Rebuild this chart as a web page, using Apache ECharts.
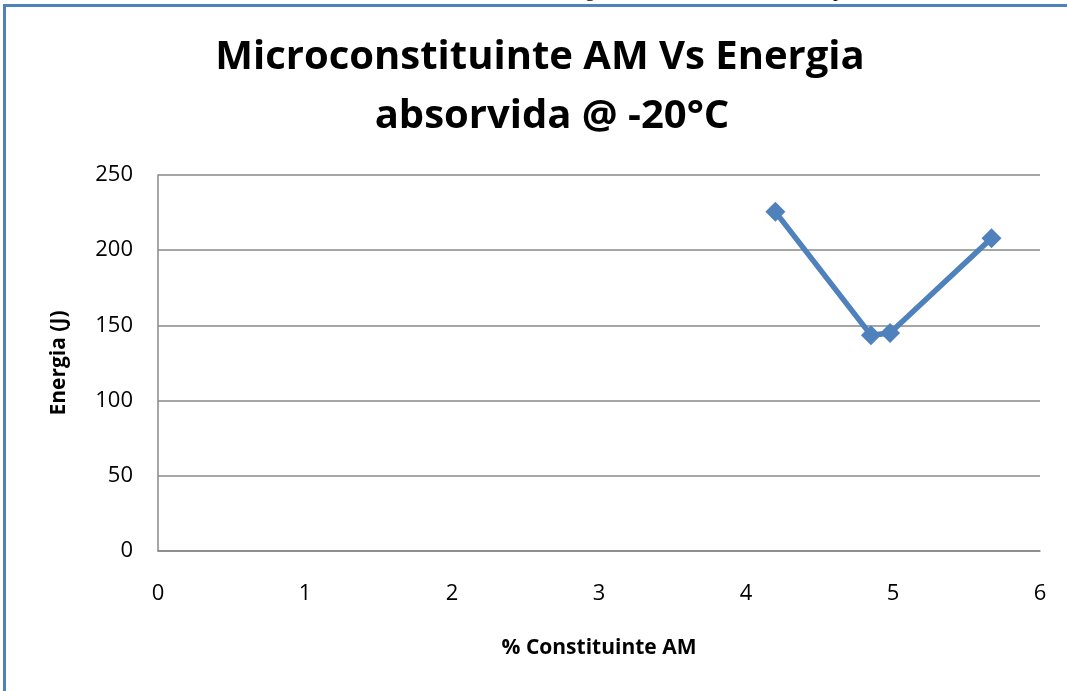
<!DOCTYPE html>
<html>
<head>
<meta charset="utf-8">
<script src="https://cdn.jsdelivr.net/npm/echarts@6/dist/echarts.min.js"></script>
<style>
  html, body { margin: 0; padding: 0; background: #fff; overflow: hidden; }
  #chart { width: 1067px; height: 691px; }
</style>
</head>
<body>
<div id="chart"></div>
<script>
// % microconstituent AM and absorbed energy at -20 °C
const amPercent = [4.2, 4.85, 4.98, 5.67];
const energyJ = [225.5, 143.5, 145, 208];
const xTicks = [0, 1, 2, 3, 4, 5, 6];
const yTicks = [0, 50, 100, 150, 200, 250];

const points = amPercent.map((x, i) => [x, energyJ[i]]);
const blue = '#4f81bd';
const font = '"Open Sans", "Liberation Sans", sans-serif';

const chart = echarts.init(document.getElementById('chart'));
chart.setOption({
  animation: false,
  backgroundColor: '#fff',
  graphic: [
    // tail ends of the page text running above the chart frame
    { type: 'text', x: 585, y: 1,
      style: { text: 'g', font: '20px "Liberation Serif", serif', fill: '#000', verticalAlign: 'bottom' } },
    { type: 'text', x: 833, y: 1,
      style: { text: 'p', font: '20px "Liberation Serif", serif', fill: '#000', verticalAlign: 'bottom' } },
    { type: 'rect', shape: { x: 4.5, y: 5.5, width: 1100, height: 700 },
      style: { fill: '#fff', stroke: blue, lineWidth: 3 } },
    { type: 'text', x: 540, y: 58,
      style: { text: 'Microconstituinte AM Vs Energia', align: 'center', verticalAlign: 'middle',
               font: 'bold 40px ' + font, fill: '#000' } },
    { type: 'text', x: 552, y: 117,
      style: { text: 'absorvida @ -20°C', align: 'center', verticalAlign: 'middle',
               font: 'bold 40px ' + font, fill: '#000' } }
  ],
  grid: { left: 158, right: 27, top: 175, bottom: 140, containLabel: false },
  xAxis: {
    type: 'value', min: xTicks[0], max: xTicks[xTicks.length - 1], interval: 1,
    name: '% Constituinte AM', nameLocation: 'middle', nameGap: 87,
    nameTextStyle: { fontFamily: font, fontWeight: 'bold', fontSize: 21, color: '#000' },
    axisLine: { show: true, lineStyle: { color: '#888', width: 1.5 } },
    axisTick: { show: false },
    splitLine: { show: false },
    axisLabel: { fontFamily: font, fontSize: 22, color: '#000', margin: 32 }
  },
  yAxis: {
    type: 'value', min: yTicks[0], max: yTicks[yTicks.length - 1], interval: 50,
    name: 'Energia (J)', nameLocation: 'middle', nameGap: 88, nameRotate: 90,
    nameTextStyle: { fontFamily: font, fontWeight: 'bold', fontSize: 21, color: '#000' },
    axisLine: { show: true, lineStyle: { color: '#888', width: 1.5 } },
    axisTick: { show: false },
    splitLine: { show: true, lineStyle: { color: '#888', width: 1.5 } },
    axisLabel: { fontFamily: font, fontSize: 22, color: '#000', margin: 25 }
  },
  series: [{
    type: 'line', data: points,
    symbol: 'diamond', symbolSize: 20,
    lineStyle: { color: blue, width: 5.5 },
    itemStyle: { color: blue }
  }]
});
</script>
</body>
</html>
